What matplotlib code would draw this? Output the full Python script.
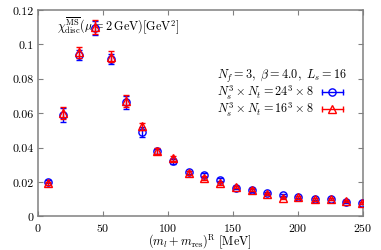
import matplotlib
matplotlib.use("Agg")
import matplotlib.pyplot as plt
from matplotlib.lines import Line2D
from matplotlib.legend_handler import HandlerLine2D
from matplotlib.ticker import FuncFormatter

plt.rcParams["font.family"] = "serif"
plt.rcParams["font.serif"] = ["cmr10", "DejaVu Serif"]
plt.rcParams["mathtext.fontset"] = "cm"
plt.rcParams["axes.formatter.use_mathtext"] = True

# quark mass (MeV)
mass = [7.7, 19.7, 31.8, 44.0, 56.0, 68.0, 80.0, 92.0, 104.0, 116.0, 128.2,
        140.2, 152.5, 164.6, 176.6, 189.0, 200.5, 213.3, 225.4, 237.2, 249.2]

# 24^3 x 8
chi_24 = [0.0201, 0.0590, 0.0937, 0.1092, 0.0913, 0.0662, 0.0491, 0.0377,
          0.0319, 0.0255, 0.0240, 0.0213, 0.0166, 0.0151, 0.0135, 0.0124,
          0.0112, 0.0099, 0.0099, 0.0083, 0.0077]
err_24 = [0.0010, 0.0040, 0.0030, 0.0040, 0.0030, 0.0040, 0.0030, 0.0015,
          0.0015, 0.0010, 0.0010, 0.0010, 0.0008, 0.0008, 0.0007, 0.0007,
          0.0007, 0.0006, 0.0006, 0.0006, 0.0006]

# 16^3 x 8
chi_16 = [0.0192, 0.0598, 0.0952, 0.1100, 0.0928, 0.0672, 0.0523, 0.0380,
          0.0337, 0.0252, 0.0224, 0.0192, 0.0170, 0.0155, 0.0130, 0.0108,
          0.0110, 0.0098, 0.0101, 0.0090, 0.0078]
err_16 = [0.0010, 0.0035, 0.0030, 0.0040, 0.0030, 0.0035, 0.0020, 0.0015,
          0.0015, 0.0010, 0.0010, 0.0010, 0.0008, 0.0008, 0.0007, 0.0007,
          0.0007, 0.0006, 0.0006, 0.0006, 0.0006]

BLUE = "#0000ff"
RED = "#ff0000"
GRAY = "#808080"
FS = 8.8

fig = plt.figure(figsize=(3.81, 2.51), dpi=100)
ax = fig.add_axes([0.099, 0.134, 0.853, 0.823])

ax.errorbar(mass, chi_24, yerr=err_24, fmt="o", color=BLUE, mfc="none",
            mec=BLUE, ms=5.2, mew=1.0, elinewidth=1.0, capsize=2.2, capthick=1.0,
            zorder=3)
ax.errorbar(mass, chi_16, yerr=err_16, fmt="^", color=RED, mfc="none",
            mec=RED, ms=5.2, mew=1.0, elinewidth=1.0, capsize=2.2, capthick=1.0,
            zorder=4)

ax.set_xlim(0, 250)
ax.set_ylim(0, 0.12)
ax.set_xticks([0, 50, 100, 150, 200, 250])
ax.set_yticks([0, 0.02, 0.04, 0.06, 0.08, 0.1, 0.12])
ax.yaxis.set_major_formatter(FuncFormatter(lambda v, p: f"{v:g}"))
ax.tick_params(direction="in", length=3.5, width=0.8, color=GRAY,
               top=True, right=True, labelsize=8.6, pad=3)
for s in ax.spines.values():
    s.set_color(GRAY)
    s.set_linewidth(1.1)

ax.set_xlabel(r"$(m_l + m_{\rm res})^{\rm R}\ [{\rm MeV}]$", fontsize=FS, labelpad=-0.5)

ax.text(0.06, 0.925,
        r"$\chi^{\overline{\rm MS}}_{\rm disc}(\mu = 2\,{\rm GeV})[{\rm GeV}^2]$",
        transform=ax.transAxes, fontsize=FS, ha="left", va="center", zorder=2)

# legend: gnuplot style, label then sample
h24_line = Line2D([], [], color=BLUE, lw=1.0, marker="|", ms=5, mew=1.0)
h24_mark = Line2D([], [], color=BLUE, ls="none", marker="o", mfc="none", ms=5.2, mew=1.0)
h16_line = Line2D([], [], color=RED, lw=1.0, marker="|", ms=5, mew=1.0)
h16_mark = Line2D([], [], color=RED, ls="none", marker="^", mfc="none", ms=5.2, mew=1.0)
hmap = {h24_line: HandlerLine2D(numpoints=2), h16_line: HandlerLine2D(numpoints=2),
        h24_mark: HandlerLine2D(numpoints=1), h16_mark: HandlerLine2D(numpoints=1)}
leg = ax.legend([(h24_line, h24_mark), (h16_line, h16_mark)],
                [r"$N_s^3 \times N_t = 24^3 \times 8$",
                 r"$N_s^3 \times N_t = 16^3 \times 8$"],
                title=r"$N_f = 3,\ \beta = 4.0,\ L_s = 16$",
                alignment="right", markerfirst=False, frameon=False,
                fontsize=FS, title_fontsize=FS, handlelength=2.3,
                handletextpad=0.35, labelspacing=-0.1, borderpad=0.1,
                loc="upper right", bbox_to_anchor=(0.972, 0.762),
                handler_map=hmap)
leg._legend_box.sep = 0

fig.savefig("out.png", dpi=100)
